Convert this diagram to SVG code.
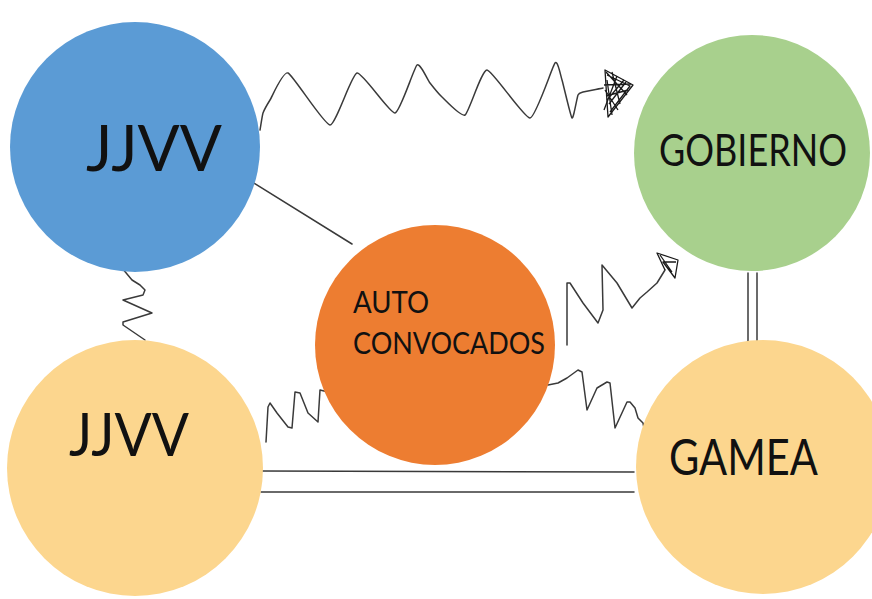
<svg xmlns="http://www.w3.org/2000/svg" width="872" height="599" viewBox="0 0 872 599">
<style>
.lbl{font-family:Lato,"Open Sans","Liberation Sans",sans-serif;fill:#111}
.ln{fill:none;stroke:#3a3a3a;stroke-width:1.5;stroke-linejoin:round;stroke-linecap:round}
.sc{fill:none;stroke:#1a1a1a;stroke-width:1.3;stroke-linejoin:round}
</style>
<rect width="872" height="599" fill="#ffffff"/>
<g id="connectors">
<line class="ln" x1="249" y1="180" x2="352" y2="244"/>
<line class="ln" x1="748" y1="273" x2="748" y2="343"/>
<line class="ln" x1="757" y1="273" x2="757" y2="343"/>
<line class="ln" x1="261" y1="471" x2="634" y2="472"/>
<line class="ln" x1="261" y1="492" x2="634" y2="492"/>
<path class="ln" d="M260,130 C260.3,128.6 262.2,115.5 263,113 C263.9,110.5 267.9,103.4 270,100 C272.1,96.7 283,70.9 288,73 C293,75.1 324.3,125 330,125 C335.8,125 351.6,74 357,73 C362.4,72 390,113.7 395,113 C400,112.4 414.1,67.5 417,65 C419.9,62.5 427.9,80.4 430,83 C432.1,85.7 439.1,94.4 442,97 C444.9,99.7 461.3,117.3 465,115 C468.8,112.8 481.6,69.8 487,70 C492.4,70.3 524.4,118.6 530,118 C535.7,117.4 552.4,66.2 555,63 C557.7,59.9 560.6,75.4 562,80 C563.4,84.6 570.7,116.8 572,118 C573.4,119.3 577.1,97.2 578,95 C578.9,92.9 580.9,92.6 583,92 C585.1,91.4 601.4,88.4 603,88"/>
<g id="arrow1">
<path class="sc" d="M605,70 L633,85 L608,117 Z" fill="#2a2a2a" fill-opacity="0.55"/>
<path class="sc" d="M607,75 L630,86 L610,112 M604,85 L631,84 M606,96 L628,90 M607,80 L612,115 M612,72 L620,104 M617,76 L604,110 M624,80 L607,100 M606,72 L627,95 M609,104 L626,82 M605,90 L618,110"/>
</g>
<polyline class="ln" points="122,268 132,280 140,285 145,290 143,295 123,300 152,313 123,322 123,325 145,340"/>
<polyline class="ln" points="266,442 268,407 270,403 277,413 288,427 292,428 295,392 300,393 308,413 318,422 320,390 328,392"/>
<polyline class="ln" points="567,345 567,283 570,283 583,303 598,323 603,310 602,265 617,283 632,308 640,298 647,292 657,283 665,270"/>
<path class="sc" d="M665,270 L657,253 L678,260 L675,278 L663,262 L676,262 M660,255 L672,272"/>
<polyline class="ln" points="548,385 558,383 567,378 578,370 582,372 587,410 597,388 607,382 610,383 615,428 627,402 630,402 635,408 638,418 643,423 645,433"/>
</g>
<g id="jjvv-top">
<circle cx="135" cy="147" r="125" fill="#5B9BD5"/>
<text class="lbl" x="86" y="171" font-size="64" textLength="136" lengthAdjust="spacingAndGlyphs">JJVV</text>
</g>
<g id="gobierno">
<circle cx="752" cy="153" r="118" fill="#A8D08D"/>
<text class="lbl" x="659" y="166" font-size="44" textLength="188" lengthAdjust="spacingAndGlyphs">GOBIERNO</text>
</g>
<g id="autoconvocados">
<circle cx="435" cy="345" r="120" fill="#ED7D31"/>
<text class="lbl" x="353" y="313" font-size="30" textLength="76" lengthAdjust="spacingAndGlyphs">AUTO</text>
<text class="lbl" x="353" y="354" font-size="30" textLength="192" lengthAdjust="spacingAndGlyphs">CONVOCADOS</text>
</g>
<g id="jjvv-bottom">
<circle cx="135" cy="468" r="128" fill="#FCD68E"/>
<text class="lbl" x="69" y="456" font-size="60" textLength="120" lengthAdjust="spacingAndGlyphs">JJVV</text>
</g>
<g id="gamea">
<circle cx="763" cy="467" r="127" fill="#FCD68E"/>
<text class="lbl" x="669" y="475" font-size="50" textLength="149" lengthAdjust="spacingAndGlyphs">GAMEA</text>
</g>
</svg>
